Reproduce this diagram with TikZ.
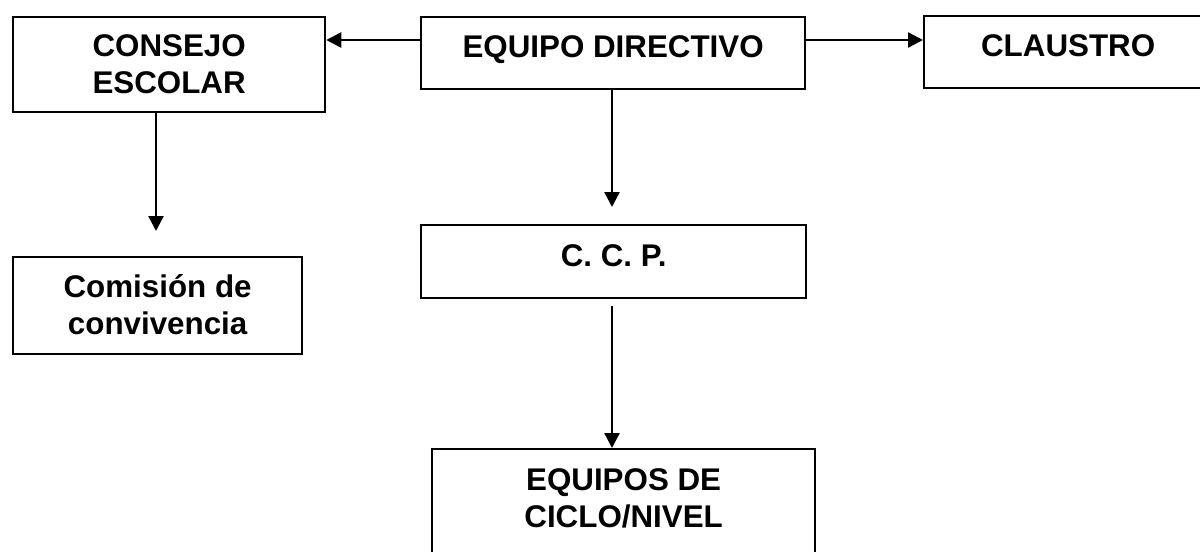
\documentclass[tikz,border=0pt]{standalone}
\usepackage{fontspec}
\setmainfont{Liberation Sans}
\usetikzlibrary{arrows.meta}
\begin{document}
\begin{tikzpicture}[x=0.75pt,y=-0.75pt,
  box/.style={draw=black,line width=1.7pt,rectangle,anchor=north west,inner xsep=0pt,inner ysep=0pt,
    align=center,font=\fontsize{23.5pt}{27.75pt}\selectfont\bfseries},
  arr/.style={line width=1.8pt,-{Triangle[length=11.25pt,width=11.25pt]}}]
\fill[white] (0,0) rectangle (1200,551);
\clip (0,0) rectangle (1200,551);
\node[box,minimum width=234pt,text height=57pt,text depth=14.25pt] (cs) at (12,16) {CONSEJO\\ESCOLAR};
\node[box,minimum width=288pt,text height=30pt,text depth=24pt] (ed) at (420,16) {EQUIPO DIRECTIVO};
\node[box,minimum width=216pt,text height=30pt,text depth=24pt] (cl) at (923,15) {CLAUSTRO};
\node[box,minimum width=216.75pt,text height=57.75pt,text depth=15pt] (cm) at (12,256) {Comisión de\\convivencia};
\node[box,minimum width=288.75pt,text height=30.75pt,text depth=24pt] (cc) at (420,224) {C. C. P.};
\node[box,minimum width=287.25pt,text height=58.5pt,text depth=55.5pt] (eq) at (431,448) {EQUIPOS DE\\CICLO/NIVEL};
\draw[arr] (ed.west |- 0,40) -- (cs.east |- 0,40);
\draw[arr] (ed.east |- 0,40) -- (cl.west |- 0,40);
\draw[arr,shorten >=18.75pt] (cs.south -| 156,0) -- (cm.north -| 156,0);
\draw[arr,shorten >=12.75pt] (ed.south -| 612,0) -- (cc.north -| 612,0);
\draw[arr,shorten <=5.25pt] (cc.south -| 612,0) -- (eq.north -| 612,0);
\end{tikzpicture}
\end{document}
